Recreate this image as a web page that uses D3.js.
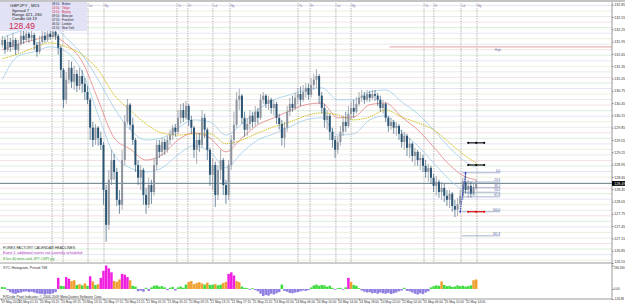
<!DOCTYPE html>
<html>
<head>
<meta charset="utf-8">
<script src="https://cdn.jsdelivr.net/npm/d3@7"></script>
<style>
  body { margin: 0; background: #fff; }
  svg { display: block; }
  text { font-family: "Liberation Sans", Arial, sans-serif; }
</style>
</head>
<body>
<svg id="chart"></svg>
<script>
let w = 625;
let h = 306;

// ---- price data (GBPJPY, one entry per candle) ----
let firstOpen = 131.87;
let closes = [131.99,131.75,131.94,131.82,131.99,131.75,131.89,132.09,131.99,132.14,
132.04,132.11,131.87,131.70,131.94,132.09,131.99,132.14,132.06,132.19,
132.09,131.80,131.26,130.53,131.02,131.31,130.97,131.16,130.87,131.11,
130.92,130.72,130.53,129.85,129.55,129.85,129.60,129.43,128.33,127.48,
128.58,129.06,128.77,128.09,127.97,129.06,129.99,130.41,129.92,129.55,
128.94,128.63,128.82,128.21,127.97,128.45,128.28,128.94,129.43,129.26,
129.50,129.31,129.55,129.67,129.85,129.75,130.09,130.28,130.09,130.38,
130.04,129.85,129.31,129.55,129.43,130.09,129.80,129.31,128.70,128.94,
128.21,128.82,129.06,128.45,128.21,128.94,129.55,129.92,130.53,130.63,
130.09,129.80,129.94,130.14,129.99,130.24,130.09,130.53,130.63,130.43,
130.53,130.33,130.43,130.09,129.94,129.60,129.85,130.24,130.43,130.33,
130.58,130.67,130.53,130.72,130.82,130.65,130.89,131.02,131.11,130.63,
130.33,130.04,130.14,129.75,129.55,129.31,129.50,129.75,129.99,129.89,
130.19,130.33,130.24,130.43,130.58,130.63,130.53,130.67,130.58,130.67,
130.63,130.53,130.33,130.43,130.09,129.89,129.99,129.85,129.89,129.70,
129.50,129.65,129.36,129.46,129.16,129.26,129.06,129.11,128.92,128.77,
128.87,128.63,128.43,128.53,128.28,128.38,128.19,128.09,128.24,127.94,
127.85,127.99,128.19,128.53,128.33,128.43,128.24,128.38,128.49];

let highs = [132.09,132.04,132.11,132.04,132.16,132.04,131.99,132.24,132.21,132.24,
132.19,132.24,132.16,131.94,132.09,132.21,132.19,132.24,132.21,132.28,
132.26,132.14,131.85,131.31,131.21,131.50,131.46,131.36,131.26,131.31,
131.26,131.06,130.87,130.58,129.99,129.94,129.89,129.75,129.50,128.45,
128.82,129.31,129.21,128.87,128.33,129.31,130.16,130.55,130.45,130.09,
129.60,129.06,128.94,128.87,128.38,128.63,128.58,129.11,129.55,129.55,
129.60,129.58,129.65,129.80,129.92,129.94,130.28,130.43,130.45,130.50,
130.43,130.14,129.89,129.70,129.72,130.28,130.19,129.85,129.36,129.11,
129.02,128.94,129.31,129.11,128.58,129.06,129.67,130.24,130.72,130.80,
130.67,130.24,130.09,130.28,130.24,130.38,130.33,130.67,130.72,130.67,
130.63,130.58,130.53,130.48,130.19,130.04,129.99,130.38,130.58,130.63,
130.70,130.82,130.85,130.89,130.94,130.92,131.06,131.16,131.28,131.16,
130.72,130.43,130.28,130.19,129.85,129.65,129.65,129.89,130.14,130.24,
130.38,130.48,130.53,130.60,130.72,130.77,130.72,130.77,130.75,130.77,
130.77,130.70,130.63,130.53,130.48,130.14,130.09,130.04,129.99,129.94,
129.80,129.75,129.70,129.60,129.50,129.36,129.31,129.26,129.19,129.06,
128.97,128.92,128.72,128.67,128.58,128.53,128.48,128.33,128.33,128.28,
128.09,128.14,128.33,128.63,128.75,128.58,128.53,128.48,128.58];

let lows = [131.80,131.65,131.70,131.70,131.75,131.63,131.67,131.85,131.89,131.94,
131.92,131.97,131.75,131.58,131.65,131.89,131.92,131.94,131.99,132.02,
131.99,131.63,131.06,130.33,130.43,130.92,130.82,130.77,130.72,130.77,
130.70,130.53,130.43,129.55,129.38,129.43,129.41,129.31,127.97,127.07,
127.36,128.45,128.58,127.94,127.75,127.85,128.94,129.92,129.80,129.43,
128.77,128.45,128.33,127.97,127.75,127.89,127.99,128.19,128.82,129.11,
129.16,129.19,129.24,129.43,129.55,129.63,129.70,129.94,129.99,130.04,
129.89,129.70,129.11,128.97,129.26,129.36,129.60,129.06,128.43,128.33,
127.92,128.09,128.58,128.21,127.99,128.09,128.82,129.43,129.85,130.28,
129.94,129.63,129.65,129.80,129.85,129.89,129.94,130.04,130.43,130.33,
130.28,130.19,130.14,129.94,129.80,129.41,129.36,129.75,130.14,130.24,
130.28,130.43,130.38,130.48,130.58,130.53,130.58,130.77,130.82,130.43,
130.19,129.85,129.80,129.55,129.36,129.11,129.21,129.41,129.65,129.75,
129.85,130.04,130.09,130.19,130.38,130.48,130.43,130.48,130.48,130.53,
130.50,130.38,130.24,130.19,129.99,129.75,129.80,129.70,129.65,129.55,
129.36,129.31,129.16,129.11,129.02,128.92,128.92,128.82,128.77,128.63,
128.53,128.48,128.28,128.19,128.14,128.09,128.04,127.94,127.89,127.80,
127.67,127.70,127.85,128.09,128.24,128.14,128.14,128.19,128.33];

// moving averages, sampled every 6 candles
let maBars = [0,6,12,18,24,30,36,42,48,54,60,66,72,78,84,90,96,102,108,114,120,126,132,138,144,150,156,162,168,174,178];
let maSlow = [131.53,131.65,131.80,131.92,131.82,131.63,131.26,130.65,130.28,129.94,129.72,129.67,129.70,129.70,129.46,129.55,129.72,129.87,129.99,130.14,130.21,130.16,130.04,130.11,130.28,130.11,129.97,129.80,129.48,129.16,128.99];
let maMid = [131.75,131.89,131.99,132.09,131.89,131.46,130.53,129.60,129.33,129.06,129.19,129.55,129.72,129.60,129.26,129.60,129.92,130.09,130.26,130.41,130.45,130.09,130.11,130.41,130.45,130.11,129.80,129.38,128.94,128.65,128.58];
let bandUp = [132.04,132.19,132.28,132.36,132.04,131.63,131.02,130.33,129.80,129.55,129.60,129.85,130.04,129.99,129.67,129.94,130.28,130.53,130.65,130.77,130.82,130.53,130.53,130.72,130.77,130.48,130.19,129.80,129.36,129.02,128.89];
let bandLow = [131.02,131.60,131.70,131.82,131.70,131.21,130.16,129.19,128.87,128.77,128.87,129.19,129.41,129.26,128.87,129.24,129.55,129.70,129.87,130.04,130.09,129.67,129.70,130.04,130.14,129.75,129.41,128.99,128.58,128.28,128.21];

// histogram indicator, one value per candle
let histo = [25,20,-15,-40,-55,-62,-50,-45,-35,-30,
-40,-35,-45,-55,-60,-62,-70,-60,-65,-55,
-40,140,40,35,150,130,100,110,50,60,
45,70,40,160,95,50,60,140,230,296,
260,210,100,90,120,190,180,150,110,40,
30,-30,-20,-35,15,-25,20,40,45,30,
35,20,-15,15,25,-20,20,30,15,55,
90,100,60,75,85,70,55,80,50,55,
60,45,55,75,90,190,210,170,100,85,
30,15,10,-10,10,-15,-30,-60,-90,-75,
-85,-60,-70,-55,-40,55,-25,-35,-50,-55,
-45,-40,-30,-20,-25,-15,20,45,55,40,
50,45,30,40,15,-10,10,15,-10,20,
140,90,50,40,10,-20,-35,-45,-40,-55,
-50,-60,-45,-55,-60,-50,-65,-55,-45,-30,
-20,15,-25,-30,-45,-60,-70,-55,-65,-45,
-30,20,35,45,40,95,50,35,40,25,
30,45,35,40,30,35,45,110,120];

// axes
let priceTicks = [132.85,132.55,132.25,131.95,131.65,131.35,131.05,130.75,130.45,130.15,129.85,129.55,129.25,128.95,128.65,128.35,128.05,127.75,127.45,127.15,126.85,126.55];
let histoTicks = [296.19, 0, -126.88];
let histoTickText = ["296.190", "0.00", "-126.88"];
let timeBars = [-0.5,6,14,22,30,38,46,54,62,70,78,86,94,102,110,118,126,134,142,150,158,166,174];
let timeLabels = ["19 May 2010","20 May 01:15","20 May 05:15","20 May 09:15","20 May 13:15","20 May 17:15","20 May 21:15","21 May 01:15","21 May 05:15","21 May 09:15","21 May 13:15","21 May 17:15","21 May 21:15","24 May 02:00","24 May 06:00","24 May 10:00","24 May 14:00","24 May 18:00","24 May 22:00","25 May 02:00","25 May 06:00","25 May 10:00","25 May 14:00"];

// session separators (candle index) and their tags
let sessionBars = [18.7,22.8,32.2,38.2,65.6,69.7,79.1,85.5,111.1,115.6,125.3,131,158.4,162.1,172.3,178.3];
let sessionTags = ["Tk","Fr","Ld","Ny"];

// levels
let lastPrice = 128.49;
let highLevel = 131.82;
let fibHigh = 128.75, fibLow = 127.80;
let fibBars = [172, 174];
let fibRatios = [0, 23.6, 38.2, 50, 61.8, 100, 161.8];
let pivotMarks = [{p: 129.48, c: "#000"}, {p: 128.94, c: "#000"}, {p: 127.80, c: "#e00000"}];

// info box
let infoLines = ["Spread   7", "Range   421, 260", "Candle   04:19"];
let clockTimes = ["08:50","14:50","13:50","09:50","07:50","06:50","01:50"];
let clockCities = ["Broker","Tokyo","Beijing","Moscow","Frankfurt","London","New York"];
let clockColors = ["#202060","#e02040","#e02040","#202020","#202020","#202020","#202020"];

let headlines = [
  {t: "FOREX FACTORY CALENDAR HEADLINES", c: "#303030"},
  {t: "Event 1: additional events not currently scheduled", c: "#b030c0"},
  {t: "8 hrs 40 mins until JPY CSPI y/y", c: "#30a030"}
];

let plotRight = 612;
let mainTop = 3, mainBottom = 263;
let indTop = 263, indBottom = 299;
let boxRight = 87;

let svg = d3.select("#chart").attr("width", w).attr("height", h);

let xScale = d3.scaleLinear().domain([0, 178]).range([2.3, 476.2]);
let yScale = d3.scaleLinear().domain([126.55, 132.89]).range([mainBottom, mainTop]);
let hScale = d3.scaleLinear().domain([-126.88, 296.19]).range([299, 265.5]);

svg.append("rect").attr("width", w).attr("height", h).attr("fill", "#fff");
svg.append("rect").attr("width", w).attr("height", 2).attr("fill", "#c4c4c4");

svg.append("clipPath").attr("id", "mainclip")
  .append("rect").attr("x", 0).attr("y", mainTop).attr("width", plotRight).attr("height", mainBottom - mainTop);

let main = svg.append("g").attr("clip-path", "url(#mainclip)");

// pastel pivot grid
let gridColors = ["#e8edd2", "#e0def2", "#d2ead2", "#f2d8d8", "#e4e4e4"];
main.append("g").selectAll("line")
  .data(d3.range(126.62, 132.9, 0.135))
  .join("line")
    .attr("x1", 0).attr("x2", plotRight)
    .attr("y1", d => yScale(d)).attr("y2", d => yScale(d))
    .attr("stroke", (d, i) => gridColors[i % gridColors.length])
    .attr("stroke-width", 0.8);

// session separators
main.append("g").selectAll("line")
  .data(sessionBars)
  .join("line")
    .attr("x1", d => xScale(d)).attr("x2", d => xScale(d))
    .attr("y1", mainTop).attr("y2", mainBottom)
    .attr("stroke", "#8a8a8a").attr("stroke-width", 0.6)
    .attr("stroke-dasharray", "1.5,1");
main.append("g").selectAll("text")
  .data(sessionBars.map((b, i) => ({b: b, t: sessionTags[i % sessionTags.length]})).filter(d => xScale(d.b) > boxRight))
  .join("text")
    .attr("x", d => xScale(d.b) + 1).attr("y", 6.5)
    .attr("font-size", 2.8).attr("fill", "#8070a0")
    .text(d => d.t);

// high level line
main.append("line")
  .attr("x1", xScale(145.5)).attr("x2", plotRight)
  .attr("y1", yScale(highLevel)).attr("y2", yScale(highLevel))
  .attr("stroke", "#e8b4b4").attr("stroke-width", 1.4);
main.append("text")
  .attr("x", xScale(185)).attr("y", yScale(highLevel) + 4)
  .attr("font-size", 3).attr("fill", "#7070a0").text("High");

// last price line
main.append("line")
  .attr("x1", 0).attr("x2", plotRight)
  .attr("y1", yScale(lastPrice)).attr("y2", yScale(lastPrice))
  .attr("stroke", "#4f6f78").attr("stroke-width", 0.8);

// moving averages
let line = (vals) => d3.line()
  .x((d, i) => xScale(maBars[i]))
  .y(d => yScale(d))
  .curve(d3.curveMonotoneX)(vals);

main.append("path").attr("d", line(bandUp)).attr("fill", "none").attr("stroke", "#92c6e6").attr("stroke-width", 0.7);
main.append("path").attr("d", line(bandLow)).attr("fill", "none").attr("stroke", "#92c6e6").attr("stroke-width", 0.7);
main.append("path").attr("d", line(maMid)).attr("fill", "none").attr("stroke", "#e27272").attr("stroke-width", 0.7);
main.append("path").attr("d", line(maSlow)).attr("fill", "none").attr("stroke", "#cbb800").attr("stroke-width", 0.9).attr("stroke-dasharray", "1.4,0.9");

// candles
let opens = [firstOpen].concat(closes.slice(0, -1));
let candles = closes.map((c, i) => ({i: i, o: opens[i], h: highs[i], l: lows[i], c: c}));
let bull = "#8e949f", bear = "#2b5472";

let cg = main.append("g").selectAll("g").data(candles).join("g");
cg.append("line")
  .attr("x1", d => xScale(d.i)).attr("x2", d => xScale(d.i))
  .attr("y1", d => yScale(d.h)).attr("y2", d => yScale(d.l))
  .attr("stroke", d => d.c >= d.o ? "#858b96" : "#365e7c").attr("stroke-width", 0.7);
cg.append("rect")
  .attr("x", d => xScale(d.i) - 1)
  .attr("width", 2)
  .attr("y", d => yScale(Math.max(d.o, d.c)))
  .attr("height", d => Math.max(0.6, Math.abs(yScale(d.o) - yScale(d.c))))
  .attr("fill", d => d.c >= d.o ? bull : bear);

// fibonacci
let fibLevel = r => fibHigh - r / 100 * (fibHigh - fibLow);
let fg = main.append("g");
fg.selectAll("line")
  .data(fibRatios)
  .join("line")
    .attr("x1", xScale(172.6)).attr("x2", xScale(187))
    .attr("y1", d => yScale(fibLevel(d))).attr("y2", d => yScale(fibLevel(d)))
    .attr("stroke", "#7480b0").attr("stroke-width", 0.6);
fg.selectAll("text")
  .data(fibRatios)
  .join("text")
    .attr("x", xScale(187)).attr("y", d => yScale(fibLevel(d)) - 0.8)
    .attr("text-anchor", "end").attr("font-size", 3).attr("fill", "#4058a0")
    .text(d => d.toFixed(1));
fg.append("line")
  .attr("x1", xScale(fibBars[0])).attr("y1", yScale(fibLow))
  .attr("x2", xScale(fibBars[1])).attr("y2", yScale(fibHigh))
  .attr("stroke", "#1a2cc8").attr("stroke-width", 0.8).attr("stroke-dasharray", "1.5,0.8");
fg.selectAll("circle")
  .data([[fibBars[0], fibLow], [fibBars[1], fibHigh]])
  .join("circle")
    .attr("cx", d => xScale(d[0])).attr("cy", d => yScale(d[1])).attr("r", 0.9)
    .attr("fill", "#1a2cc8");

// pivot markers
let pm = main.append("g").selectAll("g").data(pivotMarks).join("g");
pm.append("line")
  .attr("x1", xScale(175)).attr("x2", xScale(181))
  .attr("y1", d => yScale(d.p)).attr("y2", d => yScale(d.p))
  .attr("stroke", d => d.c).attr("stroke-width", 1.1);
[175, 178, 181].forEach(b => {
  pm.append("circle")
    .attr("cx", xScale(b)).attr("cy", d => yScale(d.p)).attr("r", 1.1)
    .attr("fill", d => d.c);
});

// headlines text
svg.append("g").selectAll("text")
  .data(headlines)
  .join("text")
    .attr("x", 3).attr("y", (d, i) => 248.5 + i * 5.6)
    .attr("font-size", 3.6).attr("fill", d => d.c)
    .text(d => d.t);

// info box
let info = svg.append("g");
info.append("rect").attr("x", 0).attr("y", 2).attr("width", boxRight).attr("height", 29).attr("fill", "#e2e2f6");
info.append("text").attr("x", 10).attr("y", 7).attr("font-size", 4.4).attr("fill", "#202020").text("GBPJPY  ,  M15");
info.selectAll("text.il")
  .data(infoLines)
  .join("text").attr("class", "il")
    .attr("x", 12).attr("y", (d, i) => 11.6 + i * 4.4)
    .attr("font-size", 4.2).attr("fill", "#202020")
    .text(d => d);
info.append("text").attr("x", 9).attr("y", 29.3).attr("font-size", 8.5).attr("fill", "#d0284c").text(lastPrice.toFixed(2));
info.selectAll("text.ct")
  .data(clockTimes)
  .join("text").attr("class", "ct")
    .attr("x", 52).attr("y", (d, i) => 5.4 + i * 3.95)
    .attr("font-size", 2.9).attr("fill", (d, i) => clockColors[i])
    .text(d => d);
info.selectAll("text.cc")
  .data(clockCities)
  .join("text").attr("class", "cc")
    .attr("x", 62).attr("y", (d, i) => 5.4 + i * 3.95)
    .attr("font-size", 2.9).attr("fill", (d, i) => clockColors[i])
    .text(d => d);

// indicator panel
let histColor = v => v < 0 ? "#8f7fe0" : v < 60 ? "#3ddc3d" : v < 130 ? "#f0a030" : "#f020e0";
svg.append("g").selectAll("rect")
  .data(histo)
  .join("rect")
    .attr("x", (d, i) => xScale(i) - 1.25)
    .attr("width", 2.5)
    .attr("y", d => hScale(Math.max(0, d)))
    .attr("height", d => Math.abs(hScale(d) - hScale(0)))
    .attr("fill", d => histColor(d));
svg.append("text").attr("x", 3).attr("y", 269).attr("font-size", 3.6).attr("fill", "#303030").text("XYC Histogram, Period 768");
svg.append("text").attr("x", 3).attr("y", 297.8).attr("font-size", 3.4).attr("fill", "#303030")
  .text("FXDude Pivot Indicator, \u00a9 2006-2009 MetaQuotes Software Corp.");

// frame lines
svg.append("line").attr("x1", 0).attr("x2", plotRight).attr("y1", indTop).attr("y2", indTop).attr("stroke", "#808080").attr("stroke-width", 0.8);
svg.append("line").attr("x1", 0).attr("x2", plotRight).attr("y1", indBottom).attr("y2", indBottom).attr("stroke", "#808080").attr("stroke-width", 0.8);
svg.append("line").attr("x1", plotRight).attr("x2", plotRight).attr("y1", 2).attr("y2", indBottom).attr("stroke", "#808080").attr("stroke-width", 0.8);

// price axis
let yAxis = d3.axisRight(yScale).tickValues(priceTicks).tickSize(1.5).tickFormat(d3.format(".2f"));
let yAxisGroup = svg.append("g").attr("transform", `translate(${plotRight},0)`).call(yAxis);
yAxisGroup.select(".domain").remove();
yAxisGroup.selectAll("text").attr("font-size", 3.6).attr("fill", "#303030").attr("x", 2.3);
yAxisGroup.selectAll(".tick").filter(d => d < 126.7).select("text").attr("dy", "-0.1em");
yAxisGroup.selectAll("line").attr("stroke", "#808080");

// last price tag
svg.append("rect").attr("x", plotRight).attr("y", yScale(lastPrice) - 2.4).attr("width", 13).attr("height", 4.8).attr("fill", "#000");
svg.append("text").attr("x", plotRight + 2.3).attr("y", yScale(lastPrice) + 1.3).attr("font-size", 3.6).attr("fill", "#fff").text(lastPrice.toFixed(2));

// histogram axis
let hAxis = d3.axisRight(hScale).tickValues(histoTicks).tickSize(1.5).tickFormat((d, i) => histoTickText[i]);
let hAxisGroup = svg.append("g").attr("transform", `translate(${plotRight},0)`).call(hAxis);
hAxisGroup.select(".domain").remove();
hAxisGroup.selectAll("text").attr("font-size", 3).attr("fill", "#303030").attr("x", 1.8);
hAxisGroup.selectAll(".tick").filter(d => d > 200).select("text").attr("dy", "0.9em");
hAxisGroup.selectAll("line").attr("stroke", "#808080");

// time axis
let xAxis = d3.axisBottom(xScale).tickValues(timeBars).tickSize(1.5).tickFormat((d, i) => timeLabels[i]);
let xAxisGroup = svg.append("g").attr("transform", `translate(0,${indBottom})`).call(xAxis);
xAxisGroup.select(".domain").remove();
xAxisGroup.selectAll("text").attr("font-size", 3.2).attr("fill", "#303030").attr("text-anchor", "start").attr("dy", "0.5em").attr("y", 2.6);
xAxisGroup.selectAll("line").attr("stroke", "#808080");
</script>
</body>
</html>
